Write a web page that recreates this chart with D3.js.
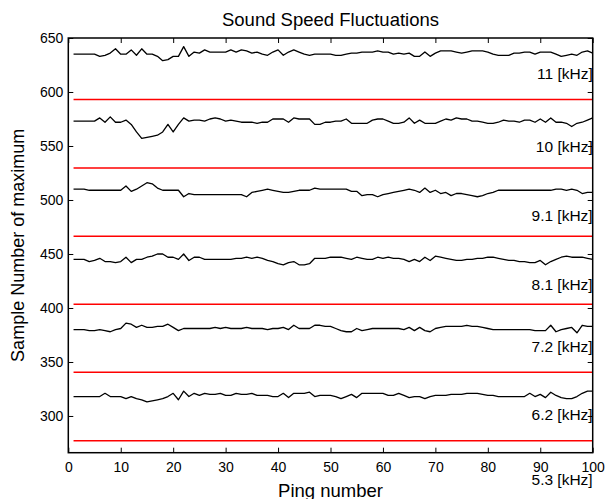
<!DOCTYPE html>
<html>
<head>
<meta charset="utf-8">
<script src="https://cdn.jsdelivr.net/npm/d3@7"></script>
<style>
  body { margin: 0; background: #fff; }
  svg { display: block; font-family: "Liberation Sans", Arial, sans-serif; }
</style>
</head>
<body>
<svg></svg>
<script>
// ping numbers 1..100
var pings = d3.range(1, 101);

// sample number of the maximum, one array per frequency band
var s11 = [
  635,635,635,635,635, 633,634,636,640,635, 635,639,634,640,635, 635,633,629,630,633,
  633,642,633,637,636, 639,637,637,637,637, 639,637,639,638,636, 637,635,634,637,639,
  634,637,639,637,635, 634,635,635,635,635, 634,634,635,636,636, 637,637,637,638,637,
  637,635,636,635,636, 633,633,637,633,636, 638,638,638,637,636, 637,638,638,638,637,
  635,634,634,634,636, 636,637,637,635,637, 637,637,635,633,634, 635,634,637,638,636
];
var s10 = [
  573,573,573,573,573, 576,572,577,572,572, 574,570,563,557,558, 559,560,563,570,563,
  570,576,573,574,574, 573,575,576,575,573, 574,573,572,572,572, 571,572,572,575,575,
  575,572,576,575,575, 575,570,570,572,572, 573,573,575,571,571, 571,571,574,575,575,
  573,571,571,572,576, 571,574,571,571,571, 573,575,574,576,575, 575,573,573,572,571,
  571,572,574,573,573, 572,574,574,572,575, 572,576,572,572,571, 568,571,572,574,576
];
var s91 = [
  510,510,510,509,509, 509,509,509,509,509, 513,508,510,513,516, 515,511,509,509,509,
  509,503,506,505,505, 505,505,505,505,505, 505,505,505,503,507, 508,509,510,509,508,
  507,507,508,509,509, 509,511,510,510,510, 510,510,510,508,508, 504,505,505,503,505,
  506,507,508,509,510, 509,507,511,507,509, 506,507,504,506,506, 505,504,503,504,506,
  507,509,509,509,509, 509,509,509,509,509, 509,509,510,510,509, 510,509,506,507,507
];
var s81 = [
  445,445,445,443,444, 446,443,443,442,443, 447,442,445,445,447, 448,450,450,447,447,
  445,450,444,447,447, 445,445,445,445,445, 445,446,446,447,446, 447,446,444,443,441,
  440,442,443,440,440, 441,446,446,446,447, 447,447,446,445,447, 446,445,445,447,446,
  447,446,446,445,443, 445,443,447,444,448, 447,446,445,444,444, 445,445,446,446,447,
  447,446,445,444,444, 443,443,442,442,444, 440,443,445,447,448, 447,447,447,446,445
];
var s72 = [
  380,380,380,379,379, 380,379,378,380,381, 386,385,382,384,382, 382,383,383,385,382,
  379,381,381,381,381, 381,381,382,381,382, 381,381,381,382,381, 381,381,380,381,381,
  382,380,384,381,381, 381,384,384,383,383, 381,379,378,378,381, 379,380,381,381,381,
  381,381,381,380,382, 379,382,379,378,381, 382,383,383,383,383, 384,383,383,382,381,
  380,380,380,380,380, 380,380,380,379,379, 379,384,378,380,381, 382,377,384,383,383
];
var s62 = [
  318,318,318,318,318, 318,321,318,318,318, 316,318,316,315,313, 314,315,316,318,321,
  315,323,318,321,319, 321,320,320,321,319, 319,321,320,320,321, 319,319,319,318,318,
  321,317,321,321,321, 322,318,319,319,319, 318,316,318,320,317, 321,321,321,321,321,
  319,319,321,319,317, 318,318,316,318,319, 319,319,320,320,320, 321,321,321,320,319,
  319,318,318,318,318, 318,318,321,318,320, 317,322,319,317,316, 316,318,321,323,323
];
var series = [s11, s10, s91, s81, s72, s62];

// red reference levels
var refLevels = [593, 529.6, 466.4, 403.4, 340.4, 277];

// band labels and where they sit (sample number)
var bandLabels = ["11 [kHz]", "10 [kHz]", "9.1 [kHz]", "8.1 [kHz]", "7.2 [kHz]", "6.2 [kHz]", "5.3 [kHz]"];
var bandLabelY = [617, 549.5, 485.5, 421.5, 364, 301.5, 241.5];

var xTicks = [0, 10, 20, 30, 40, 50, 60, 70, 80, 90, 100];
var yTicks = [300, 350, 400, 450, 500, 550, 600, 650];

var width = 606, height = 499;
var margin = { top: 38, right: 13.3, bottom: 46.3, left: 68.3 };
var w = width - margin.left - margin.right,
  h = height - margin.top - margin.bottom;

var svg = d3.select("svg").attr("width", width).attr("height", height);
var g = svg.append("g")
  .attr("transform", "translate(" + margin.left + "," + margin.top + ")");

var x = d3.scaleLinear().domain([0, 100]).range([0, w]);
var y = d3.scaleLinear().domain([266, 650]).range([h, 0]);

// axes, ticks pointing inward
var xAxis = g.append("g")
  .attr("transform", "translate(0," + h + ")")
  .call(d3.axisBottom(x).tickValues(xTicks).tickSizeInner(-5).tickSizeOuter(0).tickPadding(9));
var xTop = g.append("g")
  .call(d3.axisTop(x).tickValues(xTicks).tickSizeInner(-5).tickSizeOuter(0).tickFormat(""));
var yAxis = g.append("g")
  .call(d3.axisLeft(y).tickValues(yTicks).tickSizeInner(-5).tickSizeOuter(0).tickPadding(5));
var yRight = g.append("g")
  .attr("transform", "translate(" + w + ",0)")
  .call(d3.axisRight(y).tickValues(yTicks).tickSizeInner(-5).tickSizeOuter(0).tickFormat(""));

g.selectAll(".domain").remove();
g.selectAll(".tick line").attr("stroke", "#000").attr("stroke-width", 1);
g.selectAll(".tick text")
  .attr("fill", "#000")
  .style("font-size", "14px")
  .style("font-family", "'Liberation Sans', Arial, sans-serif");

// red reference lines
g.selectAll(".ref")
  .data(refLevels)
  .enter()
  .append("line")
  .attr("class", "ref")
  .attr("x1", x(1))
  .attr("x2", x(100))
  .attr("y1", function (d) { return y(d); })
  .attr("y2", function (d) { return y(d); })
  .attr("stroke", "#ff0000")
  .attr("stroke-width", 1.5);

// measured lines
var line = d3.line()
  .x(function (d, i) { return x(pings[i]); })
  .y(function (d) { return y(d); });

g.selectAll(".series")
  .data(series)
  .enter()
  .append("path")
  .attr("class", "series")
  .attr("d", line)
  .attr("fill", "none")
  .attr("stroke", "#000")
  .attr("stroke-width", 1.3)
  .attr("stroke-linejoin", "round");

// frame
g.append("rect")
  .attr("width", w)
  .attr("height", h)
  .attr("fill", "none")
  .attr("stroke", "#000")
  .attr("stroke-width", 1.5);

// band labels
g.selectAll(".band")
  .data(bandLabels)
  .enter()
  .append("text")
  .attr("class", "band")
  .attr("x", w)
  .attr("y", function (d, i) { return y(bandLabelY[i]); })
  .attr("dy", "0.35em")
  .attr("text-anchor", "end")
  .style("font-size", "15.5px")
  .attr("fill", "#000")
  .text(function (d) { return d; });

// titles
svg.append("text")
  .attr("x", margin.left + w / 2)
  .attr("y", 26)
  .attr("text-anchor", "middle")
  .style("font-size", "18.5px")
  .text("Sound Speed Fluctuations");

svg.append("text")
  .attr("x", margin.left + w / 2)
  .attr("y", 496.5)
  .attr("text-anchor", "middle")
  .style("font-size", "18.5px")
  .text("Ping number");

svg.append("text")
  .attr("transform", "translate(23.5," + (margin.top + h / 2) + ") rotate(-90)")
  .attr("text-anchor", "middle")
  .style("font-size", "18px")
  .text("Sample Number of maximum");
</script>
</body>
</html>
